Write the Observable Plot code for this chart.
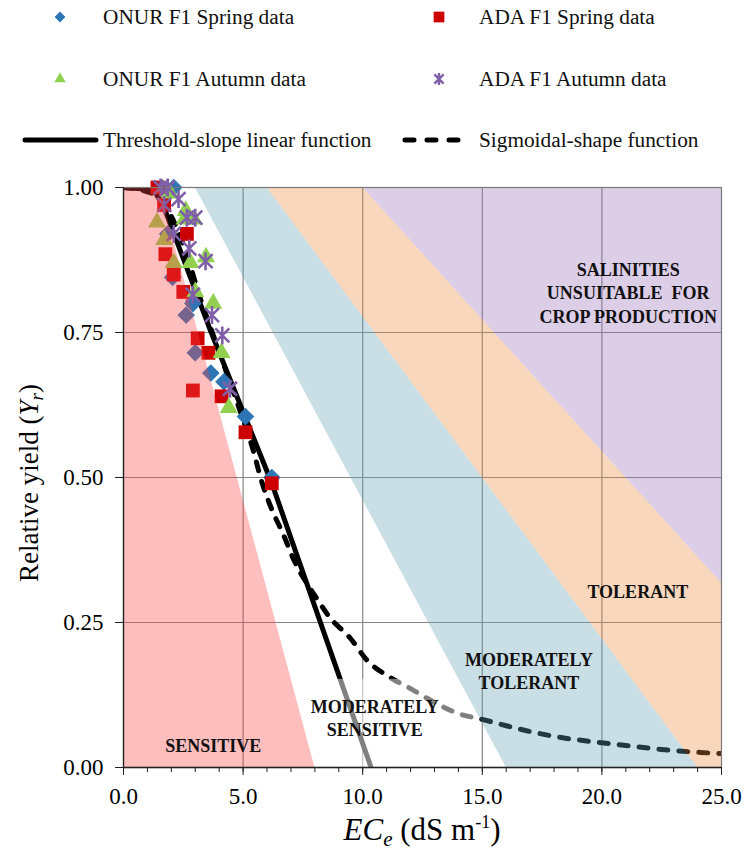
<!DOCTYPE html>
<html><head><meta charset="utf-8">
<script src="https://cdn.jsdelivr.net/npm/d3@7"></script>
<script src="https://cdn.jsdelivr.net/npm/@observablehq/plot@0.6"></script>
<style>
body{margin:0;background:#fff;font-family:"Liberation Serif","Times New Roman",serif;}
#wrap{position:relative;width:748px;height:856px;overflow:hidden;}
#legend{position:absolute;left:0;top:0;}
#chart{position:absolute;left:0;top:165px;}
#wrap svg text{font-family:"Liberation Serif","Times New Roman",serif !important;}
</style></head><body>
<div id="wrap"><svg id="legend" width="748" height="165"></svg><div id="chart"></div></div>
<script>
// ---- data ----
const xTicks = [0, 5, 10, 15, 20, 25];
const yTicks = [0, 0.25, 0.5, 0.75, 1];
const xMinorTicks = d3.range(0, 26, 1);

const onurSpring = [[1.6,1.0],[2.1,1.0],[1.85,0.92],[2.05,0.845],[2.9,0.80],[2.62,0.78],[3.0,0.715],[3.65,0.68],[4.2,0.665],[5.1,0.605],[6.2,0.50]];
const adaSpring = [[1.42,1.0],[1.7,0.97],[2.65,0.92],[1.75,0.885],[2.1,0.85],[2.5,0.82],[3.1,0.74],[3.55,0.715],[2.9,0.65],[4.1,0.64],[5.1,0.578],[6.2,0.49]];
const onurAutumn = [[1.4,0.94],[1.7,0.91],[2.1,0.87],[1.95,0.99],[2.6,0.96],[2.55,0.945],[2.95,0.945],[3.45,0.88],[2.8,0.87],[3.0,0.82],[3.75,0.80],[4.1,0.715],[4.4,0.62]];
const adaAutumn = [[1.55,1.0],[1.85,1.0],[1.7,0.97],[2.3,0.98],[2.65,0.948],[3.0,0.948],[2.1,0.92],[2.75,0.895],[3.43,0.873],[2.9,0.815],[3.7,0.78],[4.13,0.745],[4.45,0.653]];

const linearFn = [[0,1],[1.0,0.997],[1.35,0.99],[1.7,0.965],[3.64,0.753],[6.2,0.49],[10.35,0]];
const sigmoidFn = [[0,1],[0.8,0.995],[1.4,0.985],[2.0,0.95],[2.6,0.89],[3.2,0.81],[3.8,0.74],[4.4,0.67],[5.0,0.60],[5.4,0.55],[5.8,0.49],[6.15,0.45],[6.7,0.40],[7.1,0.36],[8.1,0.29],[8.6,0.26],[9.5,0.222],[10.2,0.184],[11.0,0.159],[12.0,0.136],[13.1,0.11],[14.0,0.093],[15.0,0.083],[16.0,0.072],[17.0,0.062],[18.1,0.053],[19.7,0.044],[21.0,0.038],[22.5,0.031],[24.1,0.026],[25,0.024]];

// salinity class boundaries: EC where Yr = 1 and EC where Yr = 0
const boundaryTopEC = [1.5, 3, 6, 10];
const boundaryZeroEC = [8, 16, 24, 32];

const regionLabels = ["SALINITIES\nUNSUITABLE  FOR\nCROP PRODUCTION", "TOLERANT", "MODERATELY\nTOLERANT", "MODERATELY\nSENSITIVE", "SENSITIVE"];
const regionEC = [21.1, 21.5, 16.95, 10.5, 3.75];
const regionYr = [0.82, 0.305, 0.168, 0.087, 0.04];
const textBoxEC = [8.7, 14.8];
const textBoxYr = [0, 0.152];

// ---- derived tables ----
const bnd = (i, y) => i < 0 ? 0 : i >= 4 ? 25 : boundaryZeroEC[i] + (boundaryTopEC[i] - boundaryZeroEC[i]) * y;
const bandDefs = [
  {name: "sensitive", lo: -1, hi: 0, color: "#ff4545"},
  {name: "modTolerant", lo: 1, hi: 2, color: "#65a4b5"},
  {name: "tolerant", lo: 2, hi: 3, color: "#eb8d3f"},
  {name: "unsuitable", lo: 3, hi: 4, color: "#9e73be"}
];
const bandRows = b => [0, 1].map(y => ({y, x1: bnd(b.lo, y), x2: bnd(b.hi, y)}));
const pts = arr => arr.map(([ec, yr]) => ({ec, yr}));
const labels = regionLabels.map((t, i) => ({t, ec: regionEC[i], yr: regionYr[i]}));

// Excel-style star marker: X plus a vertical bar
const starSymbol = {
  draw(ctx, size) {
    const r = Math.sqrt(size / Math.PI), d = r * 0.78;
    ctx.moveTo(0, -r); ctx.lineTo(0, r);
    ctx.moveTo(-d, -d); ctx.lineTo(d, d);
    ctx.moveTo(-d, d); ctx.lineTo(d, -d);
  }
};

const font = "Liberation Serif, Times New Roman, serif";
const W = 748, H = 691, mL = 123, mR = 27, mT = 22, mB = 89;

const chart = Plot.plot({
  width: W, height: H,
  marginLeft: mL, marginRight: mR, marginTop: mT, marginBottom: mB,
  x: {domain: [0, 25]},
  y: {domain: [0, 1]},
  style: {fontFamily: font, fontSize: "22px", color: "#000", background: "#fff"},
  marks: [
    Plot.gridX(xTicks.slice(1, -1), {stroke: "#868686", strokeOpacity: 1, strokeWidth: 1.2}),
    Plot.gridY(yTicks.slice(1, -1), {stroke: "#868686", strokeOpacity: 1, strokeWidth: 1.2}),
    Plot.line(pts(sigmoidFn), {x: "ec", y: "yr", stroke: "#000", strokeWidth: 5, strokeDasharray: "9,11", strokeLinecap: "round", curve: "monotone-x", clip: true}),
    Plot.line(pts(linearFn), {x: "ec", y: "yr", stroke: "#000", strokeWidth: 5, curve: "linear", strokeLinejoin: "round", clip: true}),
    Plot.dot(pts(onurSpring), {x: "ec", y: "yr", symbol: "diamond2", r: 7.5, fill: "#2e75b6", stroke: "#2e75b6", strokeWidth: 1}),
    Plot.dot(pts(adaSpring), {x: "ec", y: "yr", symbol: "square", r: 7.8, fill: "#cc0000"}),
    Plot.dot(pts(onurAutumn), {x: "ec", y: "yr", symbol: "triangle2", r: 8.6, fill: "#92d050"}),
    Plot.dot(pts(adaAutumn), {x: "ec", y: "yr", symbol: starSymbol, r: 9, stroke: "#7f5fa8", strokeWidth: 2.6}),
    Plot.rect([0], {x1: () => textBoxEC[0], x2: () => textBoxEC[1], y1: () => textBoxYr[0], y2: () => textBoxYr[1], fill: "#fff", fillOpacity: 0.5}),
    ...bandDefs.map(b => Plot.areaX(bandRows(b), {y: "y", x1: "x1", x2: "x2", fill: b.color, fillOpacity: 0.35, clip: true})),
    Plot.text(labels, {x: "ec", y: "yr", text: "t", fontFamily: font, fontWeight: "bold", fontSize: 18, lineHeight: 1.3, fill: "#111"}),
    Plot.frame({stroke: "#7a7a7a", strokeWidth: 1.2}),
    Plot.ruleX([0], {stroke: "#222", strokeWidth: 1.3}),
    Plot.ruleY([0], {stroke: "#222", strokeWidth: 1.3}),
    Plot.axisX({ticks: xMinorTicks, tickSize: 5, text: null, stroke: "#222"}),
    Plot.axisX({ticks: xTicks, tickSize: 8, tickPadding: 12, tickFormat: d3.format(".1f"), label: null, stroke: "#222", fontSize: 23, fontFamily: font}),
    Plot.axisY({ticks: yTicks, tickSize: 8, tickPadding: 12, tickFormat: d3.format(".2f"), label: null, stroke: "#222", fontSize: 23, fontFamily: font})
  ]
});
document.getElementById("chart").appendChild(chart);

// axis titles with sub/superscripts
const svg = d3.select(chart);
const cx = (mL + W - mR) / 2, cy = (mT + H - mB) / 2;
const xl = svg.append("text").attr("x", cx).attr("y", H - 16).attr("text-anchor", "middle")
  .attr("font-family", font).attr("font-size", 31).attr("fill", "#000");
xl.append("tspan").attr("font-style", "italic").text("EC");
xl.append("tspan").attr("font-style", "italic").attr("font-size", 21).attr("dy", 6).text("e");
xl.append("tspan").attr("dy", -6).text(" (dS m");
xl.append("tspan").attr("font-size", 18).attr("dy", -12).text("-1");
xl.append("tspan").attr("dy", 12).text(")");
const yl = svg.append("text").attr("transform", `translate(38,${cy + 6}) rotate(-90)`).attr("text-anchor", "middle")
  .attr("font-family", font).attr("font-size", 27).attr("fill", "#000");
yl.append("tspan").text("Relative yield (");
yl.append("tspan").attr("font-style", "italic").text("Y");
yl.append("tspan").attr("font-style", "italic").attr("font-size", 19).attr("dy", 5).text("r");
yl.append("tspan").attr("dy", -5).text(")");

// legend
const leg = d3.select("#legend");
function legText(x, y, t) {
  leg.append("text").attr("x", x).attr("y", y).attr("dy", "0.35em").attr("font-family", font).attr("font-size", 21.3).attr("fill", "#111").text(t);
}
function legSym(x, y, type, size, fill, stroke, sw) {
  leg.append("path").attr("transform", `translate(${x},${y})`).attr("d", d3.symbol(type, size)())
    .attr("fill", fill).attr("stroke", stroke || "none").attr("stroke-width", sw || 0);
}
legSym(60, 17, d3.symbolDiamond2, 75, "#2e75b6");
legText(103, 17, "ONUR F1 Spring data");
legSym(439, 17, d3.symbolSquare, 115, "#cc0000");
legText(479, 17, "ADA F1 Spring data");
legSym(60, 79, d3.symbolTriangle2, 95, "#92d050");
legText(103, 79, "ONUR F1 Autumn data");
legSym(439, 79, starSymbol, 110, "none", "#7f5fa8", 2.4);
legText(479, 79, "ADA F1 Autumn data");
leg.append("line").attr("x1", 25).attr("x2", 96).attr("y1", 140).attr("y2", 140).attr("stroke", "#000").attr("stroke-width", 5).attr("stroke-linecap", "round");
legText(103, 140, "Threshold-slope linear function");
leg.append("line").attr("x1", 405).attr("x2", 470).attr("y1", 140).attr("y2", 140).attr("stroke", "#000").attr("stroke-width", 5).attr("stroke-dasharray", "9,13").attr("stroke-linecap", "round");
legText(479, 140, "Sigmoidal-shape function");
</script>
</body></html>
